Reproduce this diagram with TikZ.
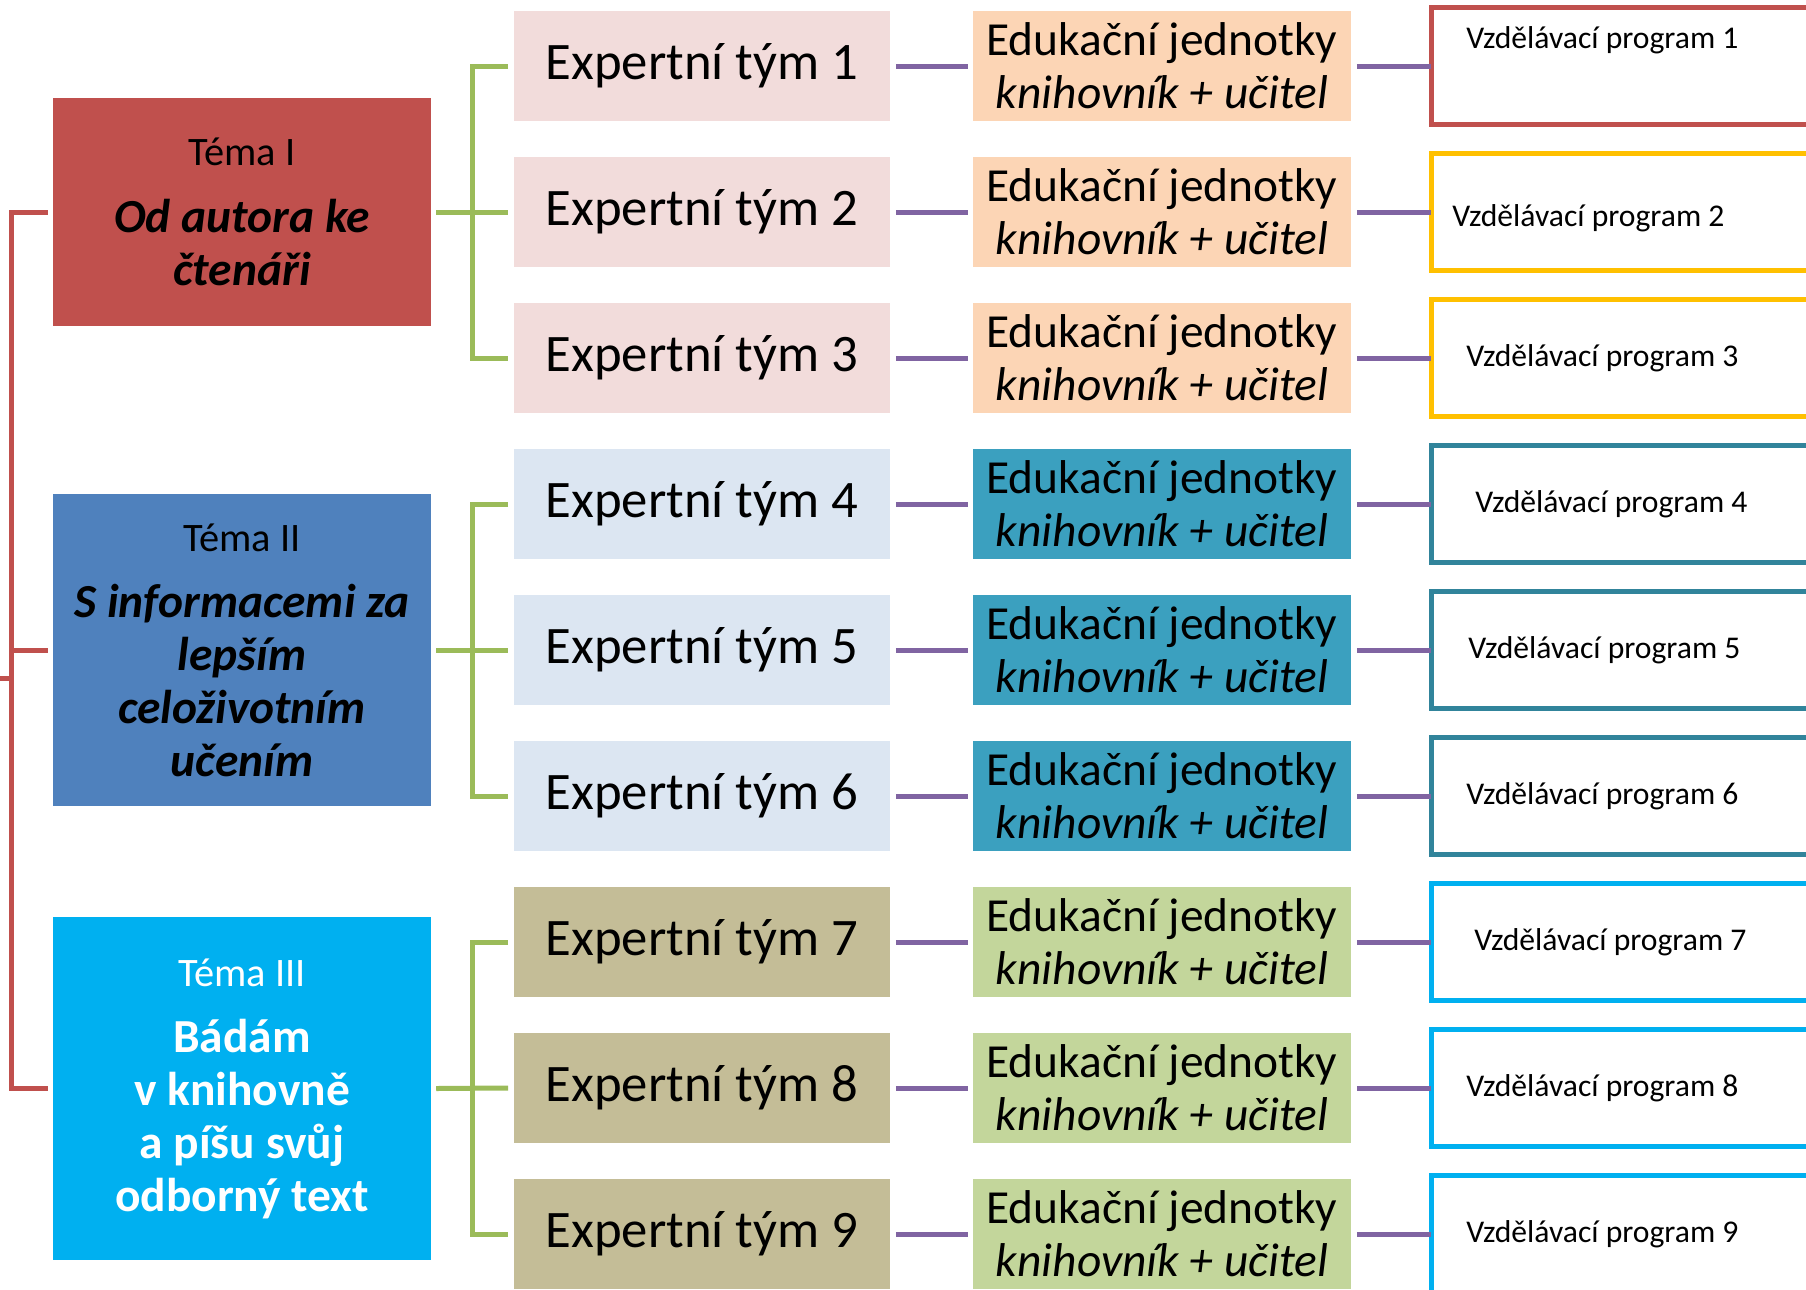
\documentclass[tikz,border=0pt]{standalone}
\usepackage{fontspec}
\setmainfont{Carlito}
\definecolor{temaA}{HTML}{C0504D}
\definecolor{temaB}{HTML}{4F81BD}
\definecolor{temaC}{HTML}{00B0F0}
\definecolor{expA}{HTML}{F2DCDB}
\definecolor{expB}{HTML}{DCE6F2}
\definecolor{expC}{HTML}{C4BD97}
\definecolor{eduA}{HTML}{FCD5B5}
\definecolor{eduB}{HTML}{3BA0BF}
\definecolor{eduC}{HTML}{C3D69B}
\definecolor{progR}{HTML}{C0504D}
\definecolor{progY}{HTML}{FFC000}
\definecolor{progB}{HTML}{31849B}
\definecolor{progC}{HTML}{00B0F0}
\definecolor{lineR}{HTML}{C0504D}
\definecolor{lineG}{HTML}{9BBB59}
\definecolor{lineP}{HTML}{8064A2}
\tikzset{
  plainbox/.style={inner sep=0pt, outer sep=0pt, align=center},
  tema/.style={plainbox, minimum width=7.56cm, font=\fontsize{27}{30}\selectfont},
  expert/.style={plainbox, minimum width=7.52cm, minimum height=2.2cm, font=\fontsize{30}{36}\selectfont},
  edu/.style={plainbox, minimum width=7.56cm, minimum height=2.2cm, font=\fontsize{27}{30}\selectfont},
  program/.style={plainbox, draw=#1, line width=0.1cm, minimum width=8cm, minimum height=2.34cm, anchor=west},
  progtext/.style={inner sep=0pt, anchor=west, font=\fontsize{18}{22}\selectfont},
  conn/.style={line width=0.1cm, draw=#1},
}
\begin{document}
\begin{tikzpicture}[x=0.02cm,y=-0.02cm]
  \useasboundingbox (0,0) rectangle (1806,1289);
  \clip (0,0) rectangle (1806,1289);
  % jeden radek: tym -- jednotky -- program
  \foreach \i/\ef/\uf/\pc/\dx/\dy in {1/expA/eduA/progR/1466/-26, 2/expA/eduA/progY/1452/6,
      3/expA/eduA/progY/1466/0, 4/expB/eduB/progB/1475/0, 5/expB/eduB/progB/1468/0,
      6/expB/eduB/progB/1466/0, 7/expC/eduC/progC/1474/0, 8/expC/eduC/progC/1466/0,
      9/expC/eduC/progC/1466/0} {
    \node[expert, fill=\ef] (e\i) at (702,{66+146*(\i-1)}) {Expertní tým \i};
    \node[edu, fill=\uf] (u\i) at (1162,{66+146*(\i-1)}) {Edukační jednotky\\\textit{knihovník + učitel}};
    \node[program=\pc] (p\i) at (1431,{66+146*(\i-1)}) {};
    \node[progtext] (l\i) at (\dx,{66+146*(\i-1)+\dy}) {Vzdělávací program \i};
    \draw[conn=lineP] ([xshift=3.4pt]e\i.east) -- ([xshift=-3pt]u\i.west);
    \draw[conn=lineP] ([xshift=3.4pt]u\i.east) -- (p\i.west);
  }
  \node[tema, fill=temaA, minimum height=4.56cm] (t1) at (242,212)
    {{\fontsize{23}{30}\selectfont Téma I}\\[8pt]\textbf{\textit{Od autora ke}}\\\textbf{\textit{čtenáři}}};
  \node[tema, fill=temaB, minimum height=6.24cm] (t2) at (242,650)
    {{\fontsize{23}{30}\selectfont Téma II}\\[8pt]\textbf{\textit{S informacemi za}}\\\textbf{\textit{lepším}}\\
     \textbf{\textit{celoživotním}}\\\textbf{\textit{učením}}};
  \node[tema, fill=temaC, text=white, minimum height=6.86cm] (t3) at (242,1088.5)
    {{\fontsize{23}{30}\selectfont Téma III}\\[8pt]\textbf{Bádám}\\\textbf{v knihovně}\\
     \textbf{a píšu svůj}\\\textbf{odborný text}};
  % vetve k tematum
  \coordinate (root) at (0,678);
  \draw[conn=lineR] (root) -- ++(12,0);
  \draw[conn=lineR] ([xshift=-3pt]t1.west) -- ++(-36,0) |- ([xshift=-3pt]t3.west);
  \draw[conn=lineR] ([xshift=-3pt]t2.west) -- ++(-36,0);
  \foreach \t/\a/\b/\c in {1/1/2/3, 2/4/5/6, 3/7/8/9} {
    \draw[conn=lineG] ([xshift=-3.4pt]e\a.west) -- ++(-36,0) |- ([xshift=-3.4pt]e\c.west);
    \draw[conn=lineG] ([xshift=3pt]t\t.east) -- ([xshift=-3.4pt]e\b.west);
  }
\end{tikzpicture}
\end{document}
